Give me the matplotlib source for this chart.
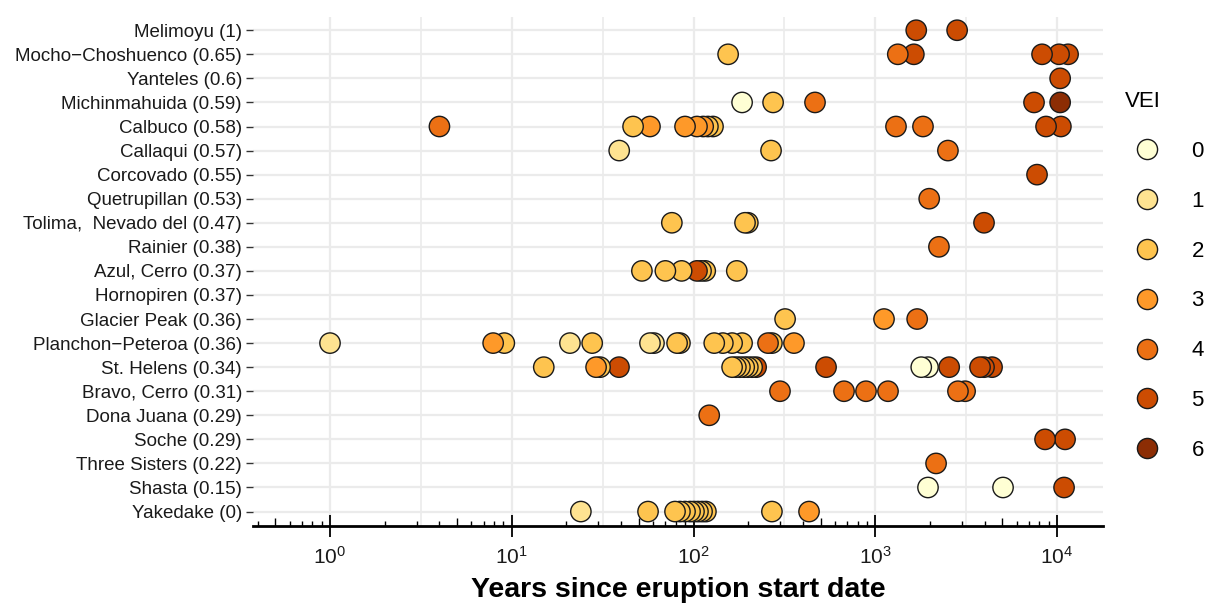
import matplotlib
matplotlib.use('Agg')
import matplotlib.pyplot as plt
from matplotlib.lines import Line2D
from matplotlib.ticker import FixedLocator, NullFormatter
import numpy as np

plt.rcParams.update({
    'font.family': 'Liberation Sans',
    'mathtext.fontset': 'custom',
    'mathtext.rm': 'Liberation Sans',
    'mathtext.it': 'Liberation Sans',
})

# volcanoes from top to bottom of the chart
volcanoes = [
    "Melimoyu (1)", "Mocho\u2212Choshuenco (0.65)", "Yanteles (0.6)",
    "Michinmahuida (0.59)", "Calbuco (0.58)", "Callaqui (0.57)",
    "Corcovado (0.55)", "Quetrupillan (0.53)", "Tolima,  Nevado del (0.47)",
    "Rainier (0.38)", "Azul, Cerro (0.37)", "Hornopiren (0.37)",
    "Glacier Peak (0.36)", "Planchon\u2212Peteroa (0.36)", "St. Helens (0.34)",
    "Bravo, Cerro (0.31)", "Dona Juana (0.29)", "Soche (0.29)",
    "Three Sisters (0.22)", "Shasta (0.15)", "Yakedake (0)",
]

# years since eruption start, one list per volcano
years = [
    [1680, 2820],
    [155, 1330, 1630, 8270, 10260, 11500],
    [10400],
    [185, 274, 466, 7470, 10400],
    [4, 46.5, 57.6, 89.8, 104.5, 113, 120, 128, 1300, 1830, 8700, 10500],
    [39, 267, 2510],
    [7760],
    [1980],
    [76, 192, 199, 3965],
    [2240],
    [52, 70, 86, 104.5, 110, 116, 173],
    [],
    [319, 1117, 1700],
    [1, 7.9, 9.1, 20.9, 27.7, 57.6, 60.6, 81.2, 84.2, 130, 145, 163, 185, 257, 270, 357],
    [15, 29.1, 30.6, 38.9, 163, 171, 180, 190, 199, 210, 221, 536, 1790, 1950, 2550, 3770, 3965, 4390],
    [299, 673, 889, 1175, 2850, 3120],
    [122],
    [8590, 11070],
    [2160],
    [1950, 5045, 10930],
    [24, 56.2, 79.1, 84.2, 89.8, 95.7, 100.6, 105.8, 111.4, 117, 270, 432],
]

vei = [
    [5, 5],
    [2, 4, 5, 5, 5, 5],
    [5],
    [0, 2, 4, 5, 6],
    [4, 2, 3, 3, 3, 3, 2, 2, 4, 4, 5, 5],
    [1, 2, 4],
    [5],
    [4],
    [2, 2, 2, 5],
    [4],
    [2, 2, 2, 5, 2, 2, 2],
    [],
    [2, 3, 4],
    [1, 3, 2, 1, 2, 1, 1, 2, 2, 2, 2, 2, 2, 4, 2, 3],
    [2, 3, 2, 5, 2, 2, 2, 2, 2, 2, 5, 5, 0, 0, 5, 5, 5, 5],
    [4, 4, 4, 4, 4, 4],
    [4],
    [5, 5],
    [4],
    [0, 0, 5],
    [1, 2, 2, 2, 2, 2, 2, 2, 2, 2, 2, 3],
]

vei_levels = [0, 1, 2, 3, 4, 5, 6]
vei_colors = ['#FFFFD4', '#FEE391', '#FEC44F', '#FE9929', '#EC7014', '#CC4C02', '#8C2D04']

n = len(volcanoes)
xs, ys, cs = [], [], []
for i, (yr, v) in enumerate(zip(years, vei)):
    for a, b in zip(yr, v):
        xs.append(a)
        ys.append(n - 1 - i)
        cs.append(vei_colors[b])
# oldest first so younger eruptions sit on top
order = np.argsort(-np.array(xs, dtype=float), kind='stable')
xs = np.array(xs, dtype=float)[order]
ys = np.array(ys)[order]
cs = [cs[k] for k in order]

fig = plt.figure(figsize=(12.09, 6.03), dpi=100)
ax = fig.add_axes([253 / 1209, 1 - 526 / 603, 850 / 1209, 509 / 603])

ax.set_xscale('log')
ax.set_xlim(0.377, 17900)
ax.set_ylim(-0.6, n - 0.45)

# grid: decades, half decades and one line per volcano
for k in range(0, 5):
    ax.axvline(10.0 ** k, color='#EBEBEB', lw=1.6, zorder=0)
for k in range(-1, 5):
    ax.axvline(10.0 ** (k + 0.5), color='#EBEBEB', lw=1.2, zorder=0)
for j in range(n):
    ax.axhline(j, color='#EBEBEB', lw=1.6, zorder=0)

ax.scatter(xs, ys, s=215, c=cs, edgecolors='#1a1a1a', linewidths=1.0, zorder=3)

ax.set_yticks(range(n))
ax.set_yticklabels(volcanoes[::-1], fontsize=13.5, color='#1a1a1a')

ax.set_xticks([1, 10, 100, 1000, 10000])
ax.set_xticklabels([r'$10^{0}$', r'$10^{1}$', r'$10^{2}$', r'$10^{3}$', r'$10^{4}$'],
                   fontsize=15, color='#1a1a1a')
minor = [m * 10.0 ** k for k in range(-1, 5) for m in (2, 3, 4, 6, 7, 8, 9)]
ax.xaxis.set_minor_locator(FixedLocator(minor))
ax.xaxis.set_minor_formatter(NullFormatter())
ax.tick_params(axis='x', which='major', direction='inout', length=16, width=1.3, pad=6)
ax.tick_params(axis='x', which='minor', direction='in', length=3.5, width=1.0)
ax.tick_params(axis='y', which='major', direction='out', length=5, width=1.0, pad=3,
               color='#333333')

# mid ticks at 5 x 10^k (log-tick annotation style)
sec = ax.secondary_xaxis('bottom')
sec.set_xticks([5 * 10.0 ** k for k in range(-1, 4)])
sec.set_xticklabels([])
sec.tick_params(direction='in', length=6, width=1.0)
sec.xaxis.set_minor_locator(FixedLocator([]))
for sp in sec.spines.values():
    sp.set_visible(False)

for side in ('top', 'right', 'left'):
    ax.spines[side].set_visible(False)
ax.spines['bottom'].set_linewidth(2.0)

ax.set_xlabel('Years since eruption start date', fontsize=20.5, fontweight='bold',
              labelpad=7)

handles = [Line2D([], [], marker='o', linestyle='none', markersize=14.5,
                  markerfacecolor=c, markeredgecolor='#1a1a1a', markeredgewidth=1.0)
           for c in vei_colors]
leg = fig.legend(handles, [str(v) for v in vei_levels], title='VEI',
                 loc='upper left', bbox_to_anchor=(1116 / 1209, 1 - 82 / 603),
                 frameon=False, fontsize=16, title_fontsize=16,
                 labelspacing=1.3, handletextpad=1.0, borderaxespad=0)
leg._legend_box.align = 'left'

fig.savefig('out.png', dpi=100)
